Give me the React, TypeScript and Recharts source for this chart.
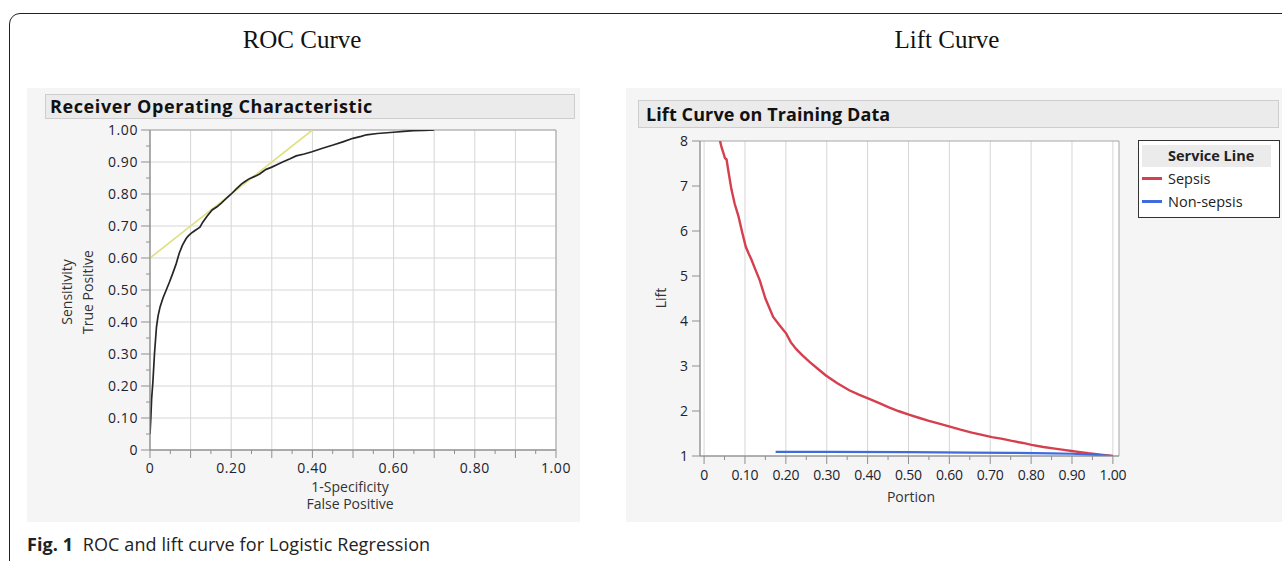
import React from 'react';
import { LineChart, Line, XAxis, YAxis, CartesianGrid, ReferenceArea, Legend } from 'recharts';

// ---------- ROC data ----------
const rocFpr = [0, 0.002, 0.004, 0.007, 0.011, 0.016, 0.02, 0.025, 0.032, 0.04, 0.048, 0.056, 0.064, 0.072, 0.08, 0.089, 0.095, 0.101, 0.11, 0.123, 0.13, 0.14, 0.153, 0.165, 0.175, 0.188, 0.2, 0.212, 0.225, 0.235, 0.245, 0.258, 0.27, 0.28, 0.286, 0.3, 0.315, 0.328, 0.345, 0.36, 0.38, 0.399, 0.425, 0.451, 0.475, 0.5, 0.52, 0.533, 0.56, 0.6, 0.625, 0.649, 0.675, 0.7];
const rocTpr = [0.05, 0.1, 0.16, 0.21, 0.3, 0.385, 0.42, 0.448, 0.475, 0.5, 0.525, 0.552, 0.58, 0.615, 0.64, 0.661, 0.67, 0.677, 0.685, 0.696, 0.712, 0.73, 0.75, 0.76, 0.771, 0.786, 0.8, 0.815, 0.831, 0.84, 0.848, 0.855, 0.8625, 0.872, 0.877, 0.884, 0.893, 0.901, 0.91, 0.919, 0.925, 0.932, 0.943, 0.953, 0.963, 0.974, 0.98, 0.985, 0.989, 0.993, 0.996, 0.998, 0.999, 1.0];
const refLineFpr = [0, 0.4];
const refLineTpr = [0.6, 1.0];
const rocTicks = [0, 0.05, 0.1, 0.15, 0.2, 0.25, 0.3, 0.35, 0.4, 0.45, 0.5, 0.55, 0.6, 0.65, 0.7, 0.75, 0.8, 0.85, 0.9, 0.95, 1.0];
const rocGrid = [0, 0.1, 0.2, 0.3, 0.4, 0.5, 0.6, 0.7, 0.8, 0.9, 1.0];

// ---------- Lift data ----------
const sepsisPortion = [0.039, 0.043, 0.047, 0.051, 0.055, 0.06, 0.067, 0.075, 0.084, 0.093, 0.102, 0.109, 0.116, 0.126, 0.136, 0.15, 0.169, 0.185, 0.201, 0.212, 0.225, 0.24, 0.258, 0.278, 0.298, 0.325, 0.355, 0.38, 0.404, 0.43, 0.452, 0.475, 0.501, 0.525, 0.55, 0.575, 0.599, 0.625, 0.655, 0.68, 0.704, 0.73, 0.753, 0.78, 0.801, 0.83, 0.858, 0.88, 0.899, 0.92, 0.94, 0.97, 1.0];
const sepsisLift = [8.0, 7.85, 7.74, 7.62, 7.59, 7.3, 6.92, 6.6, 6.33, 5.98, 5.65, 5.5, 5.36, 5.13, 4.91, 4.5, 4.09, 3.9, 3.72, 3.53, 3.38, 3.24, 3.09, 2.94, 2.79, 2.62, 2.46, 2.36, 2.27, 2.17, 2.08, 2.0, 1.92, 1.85, 1.78, 1.72, 1.66, 1.59, 1.52, 1.47, 1.42, 1.38, 1.335, 1.29, 1.246, 1.2, 1.164, 1.135, 1.11, 1.085, 1.06, 1.03, 1.0];
const nonSepsisPortion = [0.175, 0.3, 0.5, 0.65, 0.75, 0.85, 0.9, 0.95, 1.0];
const nonSepsisLift = [1.09, 1.09, 1.085, 1.075, 1.07, 1.06, 1.05, 1.03, 1.0];
const liftXTicks = [0, 0.05, 0.1, 0.15, 0.2, 0.25, 0.3, 0.35, 0.4, 0.45, 0.5, 0.55, 0.6, 0.65, 0.7, 0.75, 0.8, 0.85, 0.9, 0.95, 1.0];
const liftYTicks = [1, 2, 3, 4, 5, 6, 7, 8];
const liftGrid = [0, 0.1, 0.2, 0.3, 0.4, 0.5, 0.6, 0.7, 0.8, 0.9, 1.0];
const legendOrder = ['Sepsis', 'Non-sepsis'];

const rocData = rocFpr.map((x, i) => ({ x, y: rocTpr[i] }));
const refData = refLineFpr.map((x, i) => ({ x, y: refLineTpr[i] }));
const sepsisData = sepsisPortion.map((x, i) => ({ x, y: sepsisLift[i] }));
const nonSepsisData = nonSepsisPortion.map((x, i) => ({ x, y: nonSepsisLift[i] }));

const FONT = '"Open Sans", "Noto Sans", sans-serif';
const TICK_COLOR = '#22222e';
const AXIS_COLOR = '#8f8f8f';
const GRID_COLOR = '#d6d6d6';

const fmt = (v: number) => (v === 0 ? '0' : v.toFixed(2));
const hund = (v: number) => Math.round(v * 100);

const RocXTick = (props: any) => {
  const { x, y, payload } = props;
  const v = payload.value;
  const major = hund(v) % 10 === 0;
  const labeled = hund(v) % 20 === 0;
  return (
    <g>
      <line x1={x} y1={y} x2={x} y2={y + (major ? 8 : 4)} stroke={AXIS_COLOR} />
      {labeled && (
        <text x={x} y={y + 23} textAnchor="middle" fontSize={14} fill={TICK_COLOR} fontFamily={FONT} letterSpacing={0.6}>
          {fmt(v)}
        </text>
      )}
    </g>
  );
};

const RocYTick = (props: any) => {
  const { x, y, payload } = props;
  const v = payload.value;
  const major = hund(v) % 10 === 0;
  return (
    <g>
      <line x1={x} y1={y} x2={x - (major ? 9 : 4)} y2={y} stroke={AXIS_COLOR} />
      {major && (
        <text x={x - 12} y={y + 5} textAnchor="end" fontSize={14} fill={TICK_COLOR} fontFamily={FONT} letterSpacing={0.6}>
          {fmt(v)}
        </text>
      )}
    </g>
  );
};

const LiftXTick = (props: any) => {
  const { x, y, payload } = props;
  const v = payload.value;
  const major = hund(v) % 10 === 0;
  return (
    <g>
      <line x1={x} y1={y} x2={x} y2={y + (major ? 8 : 4)} stroke={AXIS_COLOR} />
      {major && (
        <text x={x} y={y + 24} textAnchor="middle" fontSize={14} fill={TICK_COLOR} fontFamily={FONT} letterSpacing={-0.2}>
          {fmt(v)}
        </text>
      )}
    </g>
  );
};

const LiftYTick = (props: any) => {
  const { x, y, payload } = props;
  return (
    <g>
      <line x1={x} y1={y} x2={x - 8} y2={y} stroke={AXIS_COLOR} />
      <text x={x - 12} y={y + 5} textAnchor="end" fontSize={14} fill={TICK_COLOR} fontFamily={FONT}>
        {String(payload.value)}
      </text>
    </g>
  );
};

const LegendBox = (props: any) => {
  const payload = [...(props.payload || [])].sort(
    (a: any, b: any) => legendOrder.indexOf(a.value) - legendOrder.indexOf(b.value)
  );
  return (
    <div style={{ border: '1.5px solid #333', background: '#fff', width: 142, height: 78, boxSizing: 'border-box', padding: '4px 8px 0 3px', fontFamily: FONT }}>
      <div style={{ background: '#ebebeb', height: 22, lineHeight: '22px', fontWeight: 700, fontSize: 14.5, paddingLeft: 26, color: '#222' }}>Service Line</div>
      {payload.map((p: any) => (
        <div key={p.value} style={{ display: 'flex', alignItems: 'center', height: 23, fontSize: 14.5, color: '#222' }}>
          <span style={{ display: 'inline-block', width: 20, height: 3, background: p.color, marginRight: 6 }} />
          <span>{p.value}</span>
        </div>
      ))}
    </div>
  );
};

const abs = (l: number, t: number, extra: React.CSSProperties = {}): React.CSSProperties => ({ position: 'absolute', left: l, top: t, ...extra });

export default function App() {
  return (
    <div style={{ position: 'absolute', left: 0, top: 0, width: 1282, height: 561, background: '#fff', overflow: 'hidden', fontFamily: FONT }}>
      {/* outer rounded frame */}
      <div style={abs(9, 13, { width: 1400, height: 700, border: '1.5px solid #222', borderRadius: 11, boxSizing: 'border-box' })} />

      {/* section titles */}
      <div style={abs(202, 26, { width: 200, textAlign: 'center', fontFamily: '"Liberation Serif", "DejaVu Serif", serif', fontSize: 25, color: '#111' })}>ROC Curve</div>
      <div style={abs(847, 26, { width: 200, textAlign: 'center', fontFamily: '"Liberation Serif", "DejaVu Serif", serif', fontSize: 25, color: '#111' })}>Lift Curve</div>

      {/* panels */}
      <div style={abs(27, 88, { width: 553, height: 434, background: '#f5f5f5' })} />
      <div style={abs(626, 88, { width: 656, height: 434, background: '#f5f5f5' })} />

      {/* headers */}
      <div style={abs(45, 94, { width: 530, height: 25, background: '#ebebeb', border: '1px solid #cdcdcd', boxSizing: 'border-box', fontWeight: 700, fontSize: 18, lineHeight: '23px', paddingLeft: 4, color: '#111', letterSpacing: 0.6 })}>Receiver Operating Characteristic</div>
      <div style={abs(638, 100, { width: 641, height: 28, background: '#ebebeb', border: '1px solid #cdcdcd', boxSizing: 'border-box', fontWeight: 700, fontSize: 18, lineHeight: '26px', paddingLeft: 7, color: '#111', letterSpacing: 0.1 })}>Lift Curve on Training Data</div>

      {/* ROC chart */}
      <div style={abs(0, 0)}>
        <LineChart width={600} height={540} margin={{ top: 130, right: 44, bottom: 60, left: 110 }}>
          <CartesianGrid fill="#fff" stroke={GRID_COLOR} verticalValues={rocGrid} horizontalValues={rocGrid} />
          <XAxis type="number" dataKey="x" domain={[0, 1]} ticks={rocTicks} interval={0} tickSize={0} tickMargin={0} tickLine={false} axisLine={{ stroke: AXIS_COLOR }} tick={<RocXTick />} height={30} allowDataOverflow />
          <YAxis type="number" dataKey="y" domain={[0, 1]} ticks={rocTicks} interval={0} tickSize={0} tickMargin={0} tickLine={false} axisLine={{ stroke: AXIS_COLOR }} tick={<RocYTick />} width={40} allowDataOverflow />
          <ReferenceArea x1={0} x2={1} y1={0} y2={1} fill="none" stroke="#a5a5a5" fillOpacity={0} />
          <Line data={refData} dataKey="y" type="linear" stroke="#e0df80" strokeWidth={1.6} dot={false} isAnimationActive={false} />
          <Line data={rocData} dataKey="y" type="linear" stroke="#262626" strokeWidth={1.7} dot={false} isAnimationActive={false} />
        </LineChart>
      </div>

      {/* ROC axis titles */}
      <div style={abs(77, 292, { transform: 'translate(-50%, -50%) rotate(-90deg)', textAlign: 'center', whiteSpace: 'nowrap', fontSize: 14, lineHeight: '21px', color: '#333' })}>
        Sensitivity<br />True Positive
      </div>
      <div style={abs(350, 495, { transform: 'translate(-50%, -50%)', textAlign: 'center', whiteSpace: 'nowrap', fontSize: 14, lineHeight: '17px', color: '#333' })}>
        1-Specificity<br />False Positive
      </div>

      {/* Lift chart */}
      <div style={abs(620, 0)}>
        <LineChart width={662} height={540} margin={{ top: 141, right: 163, bottom: 54, left: 40 }}>
          <CartesianGrid fill="#fff" stroke={GRID_COLOR} horizontal={false} verticalValues={liftGrid} />
          <XAxis type="number" dataKey="x" domain={[-0.01, 1.015]} ticks={liftXTicks} interval={0} tickSize={0} tickMargin={0} tickLine={false} axisLine={{ stroke: AXIS_COLOR }} tick={<LiftXTick />} height={30} allowDataOverflow />
          <YAxis type="number" dataKey="y" domain={[1, 8]} ticks={liftYTicks} interval={0} tickSize={0} tickMargin={0} tickLine={false} axisLine={{ stroke: AXIS_COLOR }} tick={<LiftYTick />} width={40} allowDataOverflow />
          <ReferenceArea x1={-0.01} x2={1.015} y1={1} y2={8} fill="none" stroke="#a5a5a5" fillOpacity={0} />
          <Line data={sepsisData} dataKey="y" name="Sepsis" type="linear" stroke="#d5404f" strokeWidth={2.4} dot={false} isAnimationActive={false} />
          <Line data={nonSepsisData} dataKey="y" name="Non-sepsis" type="linear" stroke="#3e6cdc" strokeWidth={2.2} dot={false} isAnimationActive={false} />
          <Legend layout="vertical" align="center" verticalAlign="middle" content={<LegendBox />} wrapperStyle={{ left: 518, top: 140, width: 142, height: 78 }} />
        </LineChart>
      </div>

      {/* Lift axis titles */}
      <div style={abs(660, 298, { transform: 'translate(-50%, -50%) rotate(-90deg)', whiteSpace: 'nowrap', fontSize: 14, color: '#333' })}>Lift</div>
      <div style={abs(911, 496, { transform: 'translate(-50%, -50%)', whiteSpace: 'nowrap', fontSize: 14, color: '#333' })}>Portion</div>

      {/* caption */}
      <div style={abs(27, 532, { fontSize: 18, color: '#222', whiteSpace: 'nowrap', letterSpacing: 0.1 })}>
        <b>Fig. 1</b>&nbsp;&nbsp;ROC and lift curve for Logistic Regression
      </div>
    </div>
  );
}
